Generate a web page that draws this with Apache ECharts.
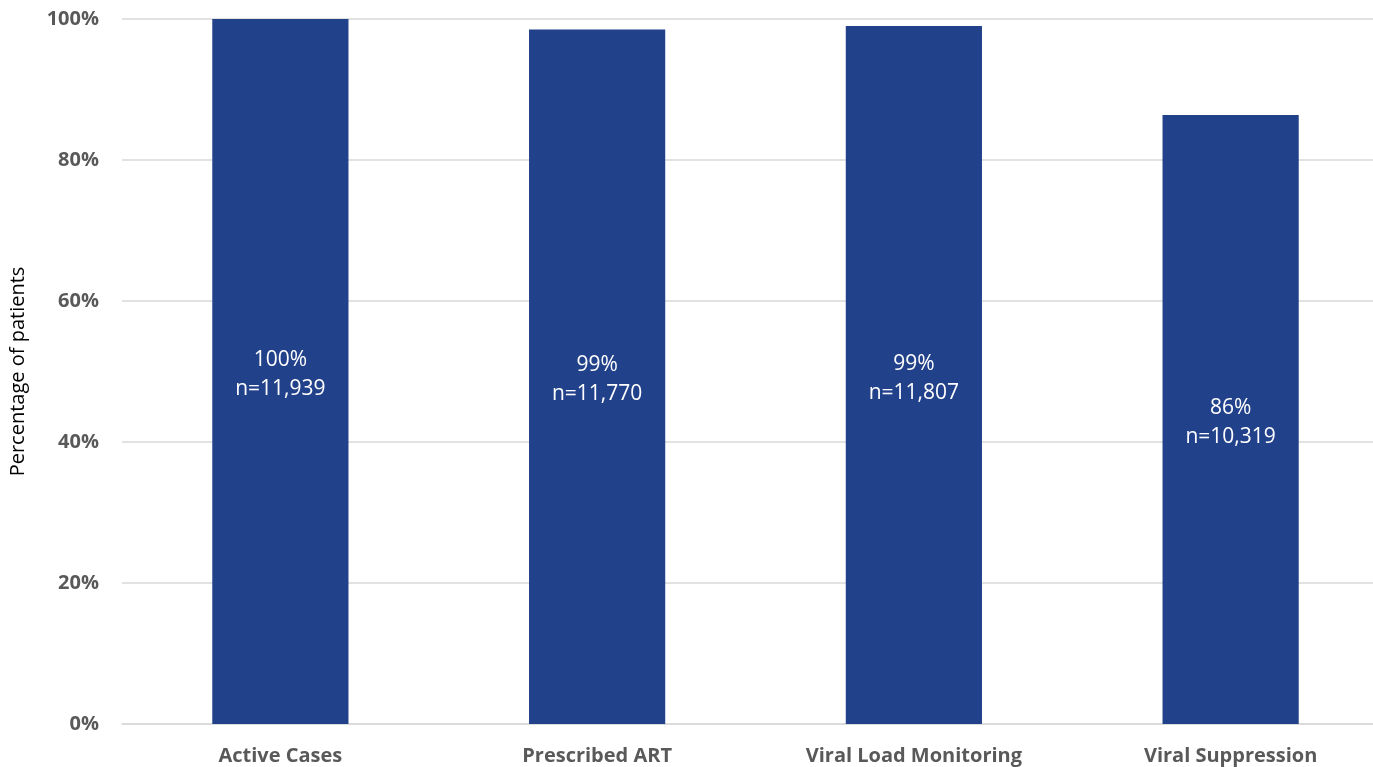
<!DOCTYPE html>
<html>
<head>
<meta charset="utf-8">
<script src="https://cdn.jsdelivr.net/npm/echarts@6/dist/echarts.min.js"></script>
<style>
  html, body { margin: 0; padding: 0; background: #fff; }
  #chart { width: 1373px; height: 767px; }
</style>
</head>
<body>
<div id="chart"></div>
<script>
// Care cascade: share of active patients at each stage
const categories = ['Active Cases', 'Prescribed ART', 'Viral Load Monitoring', 'Viral Suppression'];
const percentValues = [100, 98.5, 99.0, 86.4];
const patientCounts = ['11,939', '11,770', '11,807', '10,319'];
const yTicks = [0, 20, 40, 60, 80, 100];

const chart = echarts.init(document.getElementById('chart'), null, { renderer: 'canvas' });

chart.setOption({
  animation: false,
  backgroundColor: '#ffffff',
  // plot area runs slightly past the right edge of the canvas
  grid: {
    left: 122, width: 1267, top: 19, height: 705,
    containLabel: false,
    outerBoundsMode: 'none'
  },
  xAxis: {
    type: 'category',
    data: categories,
    axisLine: { show: true, lineStyle: { color: '#d9d9d9', width: 1.5 } },
    axisTick: { show: false },
    axisLabel: {
      color: '#595959',
      fontFamily: 'Open Sans, Lato, sans-serif',
      fontWeight: 'bold',
      fontSize: 20,
      margin: 22
    }
  },
  yAxis: {
    type: 'value',
    min: yTicks[0],
    max: yTicks[yTicks.length - 1],
    interval: 20,
    name: 'Percentage of patients',
    nameLocation: 'middle',
    nameGap: 94,
    nameRotate: 90,
    nameTextStyle: { color: '#000000', fontFamily: 'Open Sans, Lato, sans-serif', fontSize: 20 },
    axisLine: { show: false },
    axisTick: { show: false },
    splitLine: { show: true, lineStyle: { color: '#d9d9d9', width: 1.5 } },
    axisLabel: {
      formatter: v => v + '%',
      color: '#595959',
      fontFamily: 'Open Sans, Lato, sans-serif',
      fontWeight: 'bold',
      fontSize: 20,
      margin: 23
    }
  },
  series: [{
    type: 'bar',
    data: percentValues,
    barWidth: '43%',
    itemStyle: { color: '#21418a' },
    label: {
      show: true,
      position: 'inside',
      offset: [0, 3],
      color: '#ffffff',
      fontFamily: 'Open Sans, Lato, sans-serif',
      fontSize: 21,
      lineHeight: 29,
      formatter: p => Math.round(p.value) + '%\nn=' + patientCounts[p.dataIndex]
    }
  }]
});
</script>
</body>
</html>
